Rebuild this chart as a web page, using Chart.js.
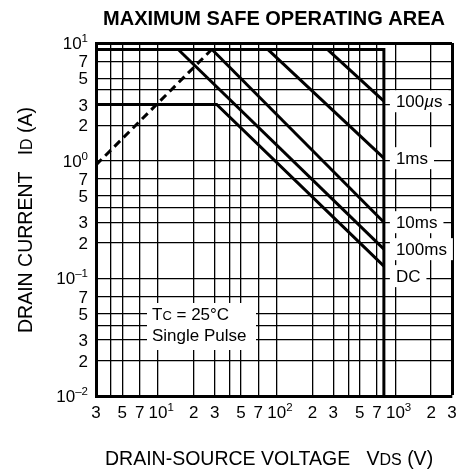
<!DOCTYPE html>
<html>
<head>
<meta charset="utf-8">
<script src="https://cdn.jsdelivr.net/npm/chart.js@4.4.0/dist/chart.umd.min.js"></script>
<style>
  html, body { margin: 0; padding: 0; background: #fff; }
  #wrap { width: 459px; height: 471px; }
</style>
</head>
<body>
<div id="wrap"><canvas id="soaChart"></canvas></div>
<script>
const FONT = '"Liberation Sans", Arial, Helvetica, sans-serif';

// grid lines (log axes, 1-2-3-4-5-7 per decade)
const gridX = [3, 4, 5, 7, 10, 20, 30, 40, 50, 70, 100, 200, 300, 400, 500, 700, 1000, 2000, 3000];
const gridY = [0.01, 0.02, 0.03, 0.04, 0.05, 0.07, 0.1, 0.2, 0.3, 0.4, 0.5, 0.7, 1, 2, 3, 4, 5, 7, 10];

// tick labels
const xLabelVals = [3, 5, 7, 10, 20, 30, 50, 70, 100, 200, 300, 500, 700, 1000, 2000, 3000];
const xLabelText = ["3", "5", "7", "10", "2", "3", "5", "7", "10", "2", "3", "5", "7", "10", "2", "3"];
const xLabelSup = ["", "", "", "1", "", "", "", "", "2", "", "", "", "", "3", "", ""];
const yLabelVals = [10, 7, 5, 3, 2, 1, 0.7, 0.5, 0.3, 0.2, 0.1, 0.07, 0.05, 0.03, 0.02, 0.01];
const yLabelText = ["10", "7", "5", "3", "2", "10", "7", "5", "3", "2", "10", "7", "5", "3", "2", "10"];
const yLabelSup = ["1", "", "", "", "", "0", "", "", "", "", "\u20131", "", "", "", "", "\u20132"];

// SOA boundaries: VDS (V) / ID (A)
const limitV = [3, 800, 800];
const limitI = [8.8, 8.8, 0.01];
const rdsV = [3, 28.3];
const rdsI = [0.92, 8.8];
const pulse100usV = [269, 800];
const pulse100usI = [8.8, 3.2];
const pulse1msV = [84.5, 800];
const pulse1msI = [8.8, 1.05];
const pulse10msV = [28.5, 800];
const pulse10msI = [8.8, 0.3];
const pulse100msV = [14.8, 800];
const pulse100msI = [8.8, 0.177];
const dcV = [3, 31.2, 800];
const dcI = [3, 3, 0.127];

const curveNames = ["100\u00b5s", "1ms", "10ms", "100ms", "DC"];
const curveEndI = [pulse100usI[1], pulse1msI[1], pulse10msI[1], pulse100msI[1], dcI[2]];

function points(vs, is) {
  return vs.map((v, i) => ({ x: v, y: is[i] }));
}

function line(vs, is, dashed) {
  return {
    data: points(vs, is),
    showLine: true,
    borderColor: "#000",
    borderWidth: 3,
    borderDash: dashed ? [8, 5] : [],
    pointRadius: 0,
    fill: false,
  };
}

// draws text made of pieces [text, font, dy], returns end x
function drawPieces(ctx, x, y, pieces) {
  pieces.forEach((p) => {
    ctx.font = p[1];
    ctx.fillText(p[0], x, y + (p[2] || 0));
    x += ctx.measureText(p[0]).width;
  });
  return x;
}

function piecesWidth(ctx, pieces) {
  let w = 0;
  pieces.forEach((p) => {
    ctx.font = p[1];
    w += ctx.measureText(p[0]).width;
  });
  return w;
}

const big = "17px " + FONT;
const sup = "11.5px " + FONT;

const labelsPlugin = {
  id: "soaLabels",
  afterDraw(chart) {
    const ctx = chart.ctx;
    const xs = chart.scales.x;
    const ys = chart.scales.y;
    ctx.save();
    ctx.fillStyle = "#000";
    ctx.textBaseline = "alphabetic";
    ctx.textAlign = "left";

    // y tick labels
    yLabelVals.forEach((v, i) => {
      const py = ys.getPixelForValue(v);
      const pieces = [[yLabelText[i], big, 0]];
      if (yLabelSup[i]) pieces.push([yLabelSup[i], sup, -7]);
      const w = piecesWidth(ctx, pieces);
      drawPieces(ctx, 88 - w, py + 6, pieces);
    });

    // x tick labels
    xLabelVals.forEach((v, i) => {
      const px = xs.getPixelForValue(v);
      ctx.font = big;
      const w = ctx.measureText(xLabelText[i]).width;
      const pieces = [[xLabelText[i], big, 0]];
      if (xLabelSup[i]) pieces.push([xLabelSup[i], sup, -7]);
      drawPieces(ctx, px - w / 2, 418, pieces);
    });

    // title
    ctx.font = "bold 20px " + FONT;
    ctx.textAlign = "center";
    ctx.fillText("MAXIMUM SAFE OPERATING AREA", 274, 25);
    ctx.textAlign = "left";

    // x axis title
    const axisFont = "19.5px " + FONT;
    const subFont = "16px " + FONT;
    drawPieces(ctx, 105, 465, [
      ["DRAIN-SOURCE VOLTAGE", axisFont],
      ["   V", axisFont],
      ["DS", subFont],
      [" (V)", axisFont],
    ]);

    // y axis title
    ctx.save();
    ctx.translate(32, 333);
    ctx.rotate(-Math.PI / 2);
    drawPieces(ctx, 0, 0, [
      ["DRAIN CURRENT", axisFont],
      ["   I", axisFont],
      ["D", subFont],
      [" (A)", axisFont],
    ]);
    ctx.restore();

    // curve labels on the right, white boxes break the grid
    const xEnd = xs.getPixelForValue(800);
    curveNames.forEach((name, i) => {
      let py = ys.getPixelForValue(curveEndI[i]);
      if (name === "DC") py += 10;
      let pieces;
      if (name.indexOf("\u00b5") >= 0) {
        pieces = [["100", big], ["\u00b5", "italic 17px " + FONT], ["s", big]];
      } else {
        pieces = [[name, big]];
      }
      const w = piecesWidth(ctx, pieces);
      ctx.fillStyle = "#fff";
      ctx.fillRect(xEnd + 6, py - 11, w + 12, 22);
      ctx.fillStyle = "#000";
      drawPieces(ctx, xEnd + 12, py + 6, pieces);
    });

    // conditions box
    ctx.fillStyle = "#fff";
    ctx.fillRect(147, 303, 109, 47);
    ctx.fillStyle = "#000";
    drawPieces(ctx, 152, 320, [["T", big], ["C", "13px " + FONT], [" = 25\u00b0C", big]]);
    drawPieces(ctx, 152, 341, [["Single Pulse", big]]);

    ctx.restore();
  },
};

Chart.defaults.font.family = FONT;

const soaChart = new Chart(document.getElementById("soaChart").getContext("2d"), {
  type: "scatter",
  data: {
    datasets: [
      line(limitV, limitI),
      line(rdsV, rdsI, true),
      line(pulse100usV, pulse100usI),
      line(pulse1msV, pulse1msI),
      line(pulse10msV, pulse10msI),
      line(pulse100msV, pulse100msI),
      line(dcV, dcI),
    ],
  },
  options: {
    responsive: true,
    maintainAspectRatio: false,
    animation: false,
    layout: {
      padding: { left: 96, right: 7, top: 43, bottom: 75 },
    },
    plugins: {
      legend: { display: false },
      tooltip: { enabled: false },
    },
    scales: {
      x: {
        type: "logarithmic",
        min: 3,
        max: 3000,
        afterBuildTicks: (scale) => {
          scale.ticks = gridX.map((v) => ({ value: v }));
        },
        ticks: { display: false },
        grid: {
          drawTicks: false,
          color: "#000",
          lineWidth: (c) => (c.tick && c.tick.value === 3000 ? 3 : 1.3),
        },
        border: { display: true, color: "#000", width: 3 },
      },
      y: {
        type: "logarithmic",
        min: 0.01,
        max: 10,
        afterBuildTicks: (scale) => {
          scale.ticks = gridY.map((v) => ({ value: v }));
        },
        ticks: { display: false },
        grid: {
          drawTicks: false,
          color: "#000",
          lineWidth: (c) => (c.tick && c.tick.value === 10 ? 3 : 1.3),
        },
        border: { display: true, color: "#000", width: 3 },
      },
    },
  },
  plugins: [labelsPlugin],
});
</script>
</body>
</html>
